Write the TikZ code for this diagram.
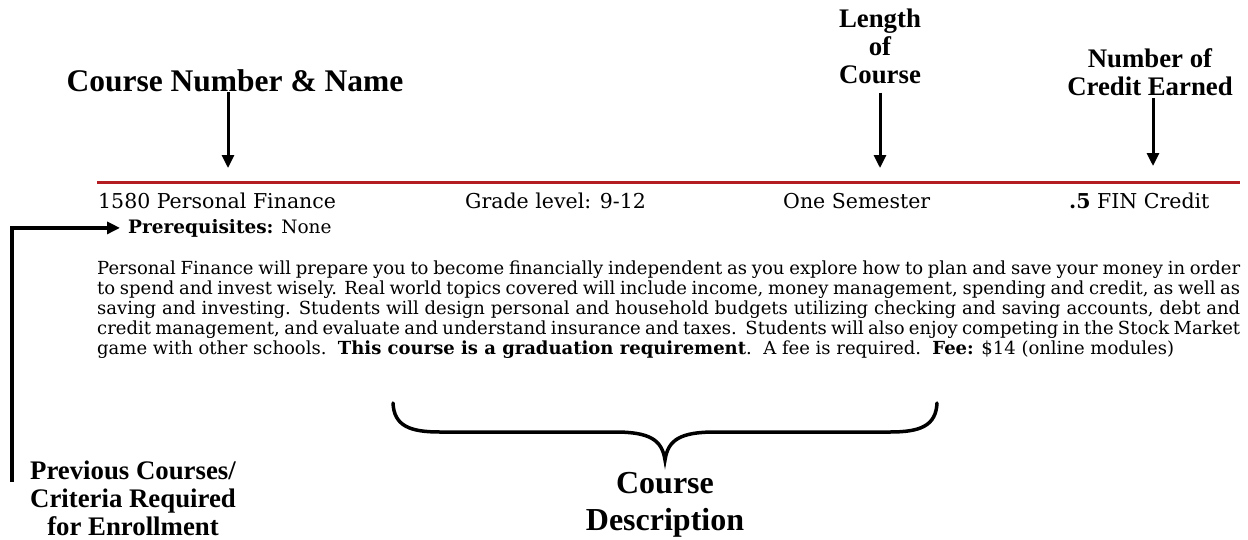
\documentclass[tikz,border=0pt]{standalone}
\usepackage{fontspec}
\setmainfont{Liberation Serif}
\newfontfamily\bodyfont{DejaVu Serif}
\usetikzlibrary{arrows.meta, calc}
\definecolor{rulered}{RGB}{180,30,34}

\begin{document}
\begin{tikzpicture}[x=1pt, y=-1pt]
    % callout labels (bold serif)
    \tikzstyle{lbl}=[inner sep=0, font=\bfseries\fontsize{26.8}{28}\selectfont, align=center]
    % entries of the course row
    \tikzstyle{hdr}=[inner sep=0, anchor=base west, font=\bodyfont\fontsize{20.5}{22}\selectfont]
    % thick pointer arrows
    \tikzstyle{arr}=[line width=3pt, -{Triangle[length=13pt, width=12pt]}]
    \useasboundingbox (0,0) rectangle (1248,539);
    % labels above and below
    \node[lbl, font=\bfseries\fontsize{31.5}{32}\selectfont] (numlbl) at (235,81) {Course Number \& Name};
    \node[lbl] (lenlbl) at (880,46) {Length\\of\\Course};
    \node[lbl] (crdlbl) at (1150,72) {Number of\\Credit Earned};
    \node[lbl] (prvlbl) at (133,498) {Previous Courses/\\Criteria Required\\for Enrollment};
    \node[lbl, font=\bfseries\fontsize{32}{37}\selectfont] (deslbl) at (665,505) {Course\\Description};
    % red rule and course row
    \coordinate (ruleL) at (97,182);
    \coordinate (ruleR) at (1240,182);
    \draw[rulered, line width=3pt] (ruleL) -- (ruleR);
    \node[hdr] (title) at (98,208) {1580 Personal Finance};
    \node[hdr] (grade) at (465,208) {Grade level: 9-12};
    \node[hdr] (length) at (783,208) {One Semester};
    \node[hdr] (credit) at (1069,208) {\textbf{.5} FIN Credit};
    \node[hdr, font=\bodyfont\fontsize{18.5}{20}\selectfont] (prereq) at (128,233) {\textbf{Prerequisites:} None};
    % description paragraph
    \node[inner sep=0, anchor=north west, text width=1143pt, align=justify,
          font=\bodyfont\fontsize{18}{20}\selectfont] (desc) at (97,261) {%
        Personal Finance will prepare you to become financially independent as you explore how to plan and save your money in order\linebreak
        to spend and invest wisely. Real world topics covered will include income, money management, spending and credit, as well as\linebreak
        saving and investing. Students will design personal and household budgets utilizing checking and saving accounts, debt and\linebreak
        credit management, and evaluate and understand insurance and taxes.\ \ Students will also enjoy competing in the Stock Market\linebreak
        game with other schools.\ \ \textbf{This course is a graduation requirement}.\ \ A fee is required.\ \ \textbf{Fee:} \$14 (online modules)};
    % arrow tips
    \coordinate (numtip) at (228,168);
    \coordinate (lentip) at (880,168);
    \coordinate (crdtip) at (1153,166);
    \coordinate (prvbot) at (12,482);
    \draw[arr] (numlbl.south -| numtip) -- (numtip);
    \draw[arr] ([yshift=-9pt]lenlbl.south -| lentip) -- (lentip);
    \draw[arr] ([yshift=-2pt]crdlbl.south -| crdtip) -- (crdtip);
    \draw[arr, line width=3.5pt] (prvbot) |- ([xshift=-8pt]prereq.west);
    % brace over the description
    \draw[line width=3.5pt, line cap=round]
        (393,403) .. controls (394,426) and (410,432) .. (440,432) -- (615,432)
        .. controls (650,432) and (662,440) .. (665,460)
        .. controls (668,440) and (680,432) .. (715,432) -- (890,432)
        .. controls (920,432) and (936,426) .. (937,403);
\end{tikzpicture}
\end{document}
